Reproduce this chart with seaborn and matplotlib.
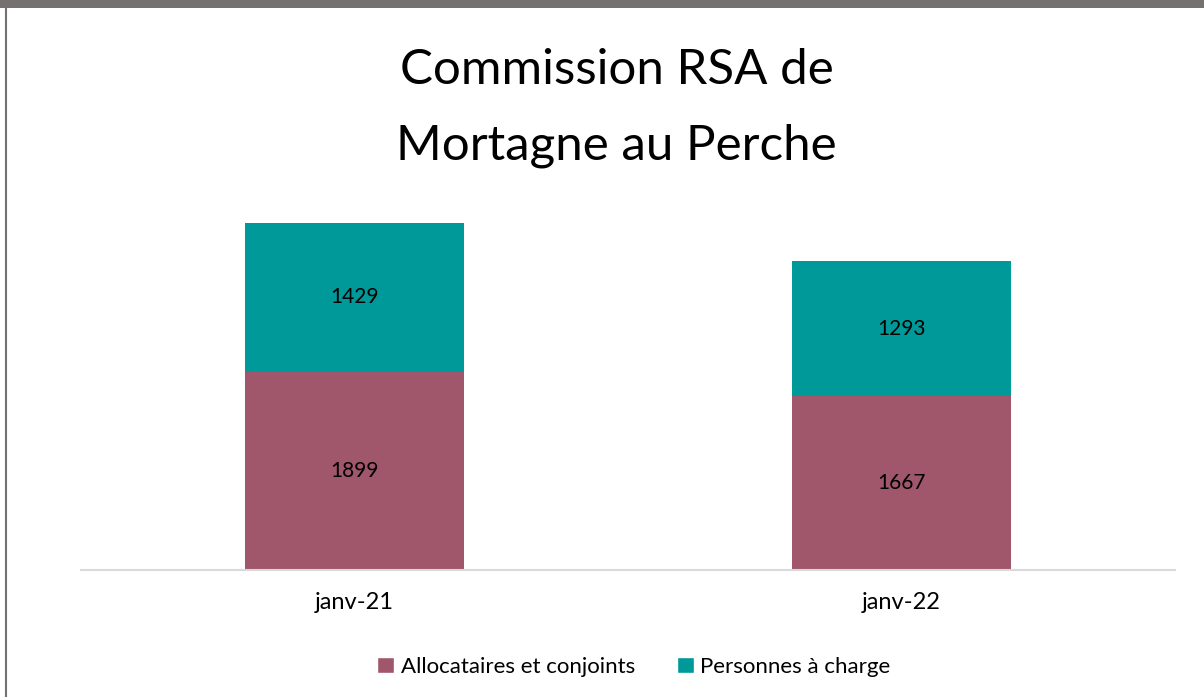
import pandas as pd
import matplotlib.pyplot as plt
import seaborn as sns
from matplotlib.patches import Rectangle, Patch
from matplotlib.lines import Line2D

periods = ['janv-21', 'janv-22']
allocataires = [1899, 1667]
personnes = [1429, 1293]
series_names = ['Allocataires et conjoints', 'Personnes à charge']
colors = ['#A0566B', '#009999']

sns.set_style('white')
plt.rcParams['font.family'] = ['Lato', 'DejaVu Sans']
plt.rcParams['text.color'] = 'black'
plt.rcParams['xtick.color'] = 'black'

df = pd.DataFrame({'period': periods, 'alloc': allocataires, 'pers': personnes})

fig = plt.figure(figsize=(12.04, 6.97), dpi=100)
ax = fig.add_axes([81 / 1204, 1 - 570 / 697, 1094 / 1204, 370 / 697])

sns.barplot(data=df, x='period', y='alloc', color=colors[0], width=0.402,
            saturation=1, linewidth=0, ax=ax)
sns.barplot(data=df, x='period', y='pers', color=colors[1], width=0.402,
            saturation=1, linewidth=0, bottom=df['alloc'], ax=ax)

for c in ax.containers:
    ax.bar_label(c, label_type='center', fontsize=15, color='black')

ax.set_ylim(0, 3548)
ax.set_xlim(-0.5, 1.5)
ax.set_xlabel('')
ax.set_ylabel('')
ax.set_yticks([])
sns.despine(ax=ax, left=True, right=True, top=True)
ax.spines['bottom'].set_color('#D9D9D9')
ax.spines['bottom'].set_linewidth(1.5)
ax.tick_params(axis='x', length=0, pad=16, labelsize=17)

fig.text(0.512, 1 - 70 / 697, 'Commission RSA de', ha='center', va='center',
         fontsize=35.5, color='black')
fig.text(0.512, 1 - 146 / 697, 'Mortagne au Perche', ha='center', va='center',
         fontsize=35.5, color='black')

handles = [Patch(facecolor=colors[0]), Patch(facecolor=colors[1])]
fig.legend(handles, series_names, loc='center', bbox_to_anchor=(634 / 1204, 1 - 667 / 697),
           ncol=2, frameon=False, fontsize=16, handlelength=0.75, handleheight=0.75,
           handletextpad=0.3, columnspacing=1.9)

# frame pieces from the page capture
fig.patches.append(Rectangle((0, 1 - 8 / 697), 1, 8 / 697, transform=fig.transFigure,
                             facecolor='#757170', edgecolor='none'))
fig.lines.append(Line2D([6 / 1204, 6 / 1204], [0, 1], transform=fig.transFigure,
                        color='#757170', linewidth=1.5))

fig.savefig('out.png', dpi=100)
